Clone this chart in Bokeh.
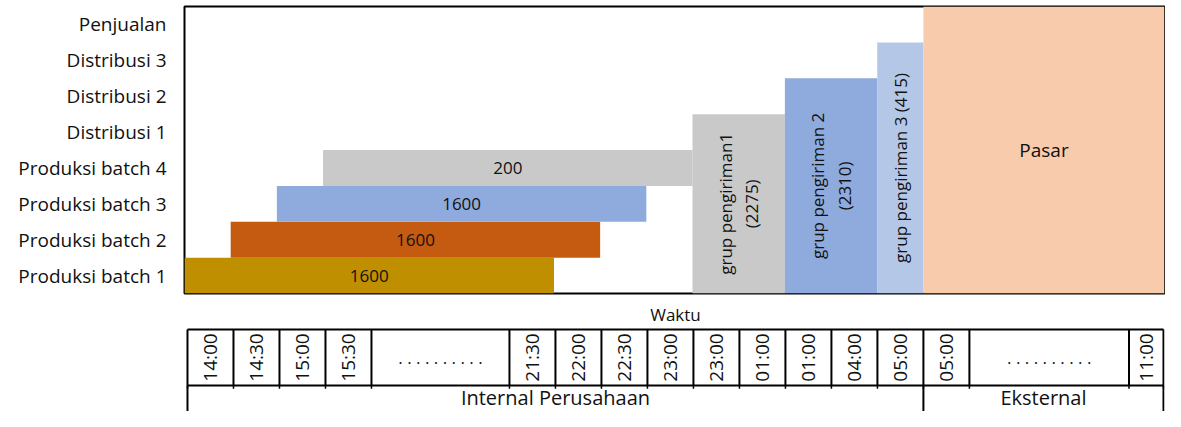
import math
from bokeh.plotting import figure
from bokeh.models import Range1d, FixedTicker
from bokeh.layouts import column
from bokeh.embed import file_html
from bokeh.resources import INLINE
from bokeh.core.properties import value

# ---------------- data ----------------
rows = ["Produksi batch 1", "Produksi batch 2", "Produksi batch 3", "Produksi batch 4",
        "Distribusi 1", "Distribusi 2", "Distribusi 3", "Penjualan"]

DOTS = ". . . . . . . . . ."
time_slots = ["14:00", "14:30", "15:00", "15:30", DOTS, "21:30", "22:00", "22:30",
              "23:00", "23:00", "01:00", "01:00", "04:00", "05:00", "05:00", DOTS, "11:00"]
slot_widths = [1, 1, 1, 1, 3, 1, 1, 1, 1, 1, 1, 1, 1, 1, 1, 3.47, 0.75]

zones = ["Internal Perusahaan", "Eksternal"]
zone_start = [0, 16]

batch_row = [1, 2, 3, 4]
batch_start = [0, 1, 2, 3]
batch_end = [8, 9, 10, 11]
batch_qty = ["1600", "1600", "1600", "200"]
batch_colors = ["#BF8F00", "#C55A11", "#8FAADC", "#C9C9C9"]

ship_labels = ["grup pengiriman1\n(2275)", "grup pengiriman 2\n(2310)", "grup pengiriman 3 (415)"]
ship_start = [11, 13, 15]
ship_end = [13, 15, 16]
ship_top_row = [5, 6, 7]
ship_colors = ["#C9C9C9", "#8FAADC", "#B4C7E7"]

market_label = "Pasar"
market_start = 16
market_top_row = 8
market_color = "#F8CBAD"

x_title = "Waktu"

# ---------------- layout constants ----------------
FONT = value("Open Sans")
TXT = "#111111"
W = 1165
FRAME_L = 184
FRAME_W = 980
total = sum(slot_widths)
zone_end = zone_start[1:] + [total]
market_end = total

# ---------------- main chart ----------------
p1 = figure(width=W, height=295, x_range=Range1d(0, total), y_range=Range1d(0.5, 8.5),
            x_axis_location=None, y_axis_location="left",
            toolbar_location=None, output_backend="svg",
            min_border_left=FRAME_L, min_border_right=W - FRAME_L - FRAME_W,
            min_border_top=6, min_border_bottom=2)
p1.grid.visible = False
p1.outline_line_color = "black"
p1.outline_line_width = 2
p1.outline_line_alpha = 1
p1.background_fill_color = "white"
p1.border_fill_color = "white"

ax = p1.yaxis[0]
ax.ticker = FixedTicker(ticks=list(range(1, len(rows) + 1)))
ax.major_label_overrides = {i + 1: r for i, r in enumerate(rows)}
ax.major_label_text_font = "Open Sans"
ax.major_label_text_font_size = "19px"
ax.major_label_text_color = TXT
ax.major_label_standoff = 18
ax.major_tick_line_color = None
ax.minor_tick_line_color = None
ax.major_tick_out = 0
ax.major_tick_in = 0
ax.axis_line_color = None

# horizontal production bars
p1.hbar(y=batch_row, left=batch_start, right=batch_end, height=1,
        fill_color=batch_colors, line_color=None)
p1.text(x=[(a + b) / 2 for a, b in zip(batch_start, batch_end)], y=batch_row, text=batch_qty,
        text_font=FONT, text_font_size="17px", text_color=TXT,
        text_align="center", text_baseline="middle")

# vertical shipment bars
p1.quad(left=ship_start, right=ship_end, bottom=[0.5] * len(ship_start),
        top=[t + 0.5 for t in ship_top_row], fill_color=ship_colors, line_color=None)
p1.text(x=[(a + b) / 2 for a, b in zip(ship_start, ship_end)],
        y=[(0.5 + t + 0.5) / 2 for t in ship_top_row], text=ship_labels,
        angle=math.pi / 2, text_font=FONT, text_font_size="17px", text_color=TXT,
        text_align="center", text_baseline="middle", text_line_height=1.15)

# market block
p1.quad(left=[market_start], right=[market_end], bottom=[0.5], top=[market_top_row + 0.5],
        fill_color=market_color, line_color=None)
p1.text(x=[(market_start + market_end) / 2], y=[(0.5 + market_top_row + 0.5) / 2],
        text=[market_label], text_font=FONT, text_font_size="19px", text_color=TXT,
        text_align="center", text_baseline="middle")

# ---------------- time table ----------------
px_per_unit = FRAME_W / total
P2_L = FRAME_L - 3
P2_W = W - P2_L
x0 = -3 / px_per_unit
x1 = x0 + P2_W / px_per_unit
H2 = 116
ROW = 56.0
ybot = -26 / ROW
ytop = ybot + H2 / ROW

p2 = figure(width=W, height=H2, x_range=Range1d(x0, x1), y_range=Range1d(ybot, ytop),
            x_axis_location=None, y_axis_location=None,
            toolbar_location=None, output_backend="svg",
            min_border_left=P2_L, min_border_right=0, min_border_top=0, min_border_bottom=0)
p2.grid.visible = False
p2.outline_line_color = None
p2.background_fill_color = "white"
p2.border_fill_color = "white"

bounds = [0]
for w in slot_widths:
    bounds.append(bounds[-1] + w)
centers = [(bounds[i] + bounds[i + 1]) / 2 for i in range(len(slot_widths))]

# horizontal lines of the time row
p2.segment(x0=[0, 0], y0=[1, 0], x1=[total, total], y1=[1, 0], line_color="black", line_width=2)
# vertical lines of the time row
p2.segment(x0=bounds, y0=[0] * len(bounds), x1=bounds, y1=[1] * len(bounds),
           line_color="black", line_width=2)
# small stubs under the time row
p2.segment(x0=bounds, y0=[0] * len(bounds), x1=bounds, y1=[-0.06] * len(bounds),
           line_color="black", line_width=1.5)
# zone row separators
zone_lines = zone_start + [total]
p2.segment(x0=zone_lines, y0=[0] * len(zone_lines), x1=zone_lines, y1=[ybot] * len(zone_lines),
           line_color="black", line_width=2)

times = [(c, t) for c, t in zip(centers, time_slots) if t != DOTS]
dots = [(c, t) for c, t in zip(centers, time_slots) if t == DOTS]
p2.text(x=[c for c, _ in times], y=[0.5] * len(times), text=[t for _, t in times],
        angle=math.pi / 2, text_font=FONT, text_font_size="19px", text_color=TXT,
        text_align="center", text_baseline="middle")
p2.text(x=[c for c, _ in dots], y=[0.5] * len(dots), text=[t for _, t in dots],
        text_font=FONT, text_font_size="17px", text_color=TXT,
        text_align="center", text_baseline="middle")

p2.text(x=[total / 2], y=[1 + 15 / ROW], text=[x_title], text_font=FONT, text_font_size="17px",
        text_color=TXT, text_align="center", text_baseline="middle")

p2.text(x=[(a + b) / 2 for a, b in zip(zone_start, zone_end)], y=[-12 / ROW] * len(zones),
        text=zones, text_font=FONT, text_font_size="20px", text_color=TXT,
        text_align="center", text_baseline="middle")

layout = column(p1, p2, spacing=0)
open("out.html", "w").write(file_html(layout, INLINE))
